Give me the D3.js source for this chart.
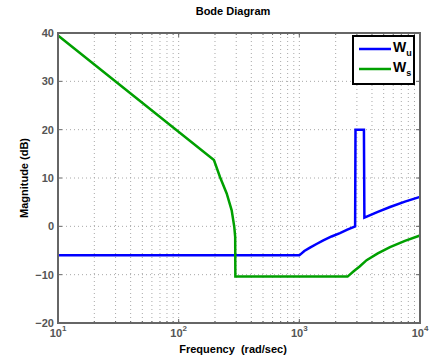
<!DOCTYPE html>
<html><head><meta charset="utf-8">
<script src="https://cdn.jsdelivr.net/npm/d3@7"></script>
<style>body{margin:0;background:#fff;} text{font-family:"Liberation Sans",Arial,Helvetica,sans-serif;}</style>
</head><body><svg id="c" width="430" height="363"></svg>
<script>
// Data (frequency in rad/sec, magnitude in dB)
const wuFreq = [10, 1000, 1100, 1225, 1400, 1580, 1850, 2170, 2500, 2900, 2920, 3430, 3460, 4470, 5640, 7500, 10000];
const wuMag  = [-6, -6, -5.1, -4.4, -3.6, -2.9, -2.1, -1.4, -0.7, 0, 20, 20, 1.8, 3.0, 4.0, 5.1, 6.1];
const wsFreq = [10, 196, 220, 250, 275, 289, 294, 295, 2510, 2820, 3160, 3610, 4470, 5640, 7500, 10000];
const wsMag  = [39.5, 13.7, 10.2, 6.8, 3.3, -0.1, -2.2, -10.4, -10.4, -9.3, -8.3, -7.0, -5.6, -4.3, -3.0, -1.9];
const yTicks = [-20, -10, 0, 10, 20, 30, 40];
const xDecades = [10, 100, 1000, 10000];
const xExponents = ["1", "2", "3", "4"];
const seriesNames = ["W", "W"];
const seriesSubs = ["u", "s"];
const seriesColors = ["#0000ff", "#00a000"];

const svg = d3.select("#c");
const L = 58, R = 420, T = 33, B = 323;
const x = d3.scaleLog().domain([10, 10000]).range([L, R]);
const y = d3.scaleLinear().domain([-20, 40]).range([B, T]);

// grid
const minor = [];
for (let d = 10; d < 10000; d *= 10) for (let k = 1; k <= 9; k++) { if (!(d === 10 && k === 1)) minor.push(d * k); }
const g = svg.append("g");
g.selectAll(".vg").data(minor).enter().append("line")
  .attr("x1", d => x(d)).attr("x2", d => x(d)).attr("y1", T).attr("y2", B)
  .attr("stroke", "#a8a8a8").attr("stroke-width", 1).attr("stroke-dasharray", "1,3");
g.selectAll(".hg").data(yTicks.slice(1, -1)).enter().append("line")
  .attr("x1", L).attr("x2", R).attr("y1", d => y(d)).attr("y2", d => y(d))
  .attr("stroke", "#a8a8a8").attr("stroke-width", 1).attr("stroke-dasharray", "1,3");

// ticks inward
const tk = svg.append("g").attr("stroke", "#666").attr("stroke-width", 1);
xDecades.forEach(d => {
  tk.append("line").attr("x1", x(d)).attr("x2", x(d)).attr("y1", B).attr("y2", B - 4);
  tk.append("line").attr("x1", x(d)).attr("x2", x(d)).attr("y1", T).attr("y2", T + 4);
});
minor.forEach(d => {
  tk.append("line").attr("x1", x(d)).attr("x2", x(d)).attr("y1", B).attr("y2", B - 2);
  tk.append("line").attr("x1", x(d)).attr("x2", x(d)).attr("y1", T).attr("y2", T + 2);
});
yTicks.forEach(v => {
  tk.append("line").attr("x1", L).attr("x2", L + 4).attr("y1", y(v)).attr("y2", y(v));
  tk.append("line").attr("x1", R).attr("x2", R - 4).attr("y1", y(v)).attr("y2", y(v));
});

// curves
const line = d3.line().x(d => x(d[0])).y(d => y(d[1]));
const wu = wuFreq.map((f, i) => [f, wuMag[i]]);
const ws = wsFreq.map((f, i) => [f, wsMag[i]]);
svg.append("path").datum(wu).attr("d", line).attr("fill", "none").attr("stroke", seriesColors[0]).attr("stroke-width", 2.5).attr("stroke-linejoin", "miter");
svg.append("path").datum(ws).attr("d", line).attr("fill", "none").attr("stroke", seriesColors[1]).attr("stroke-width", 2.5).attr("stroke-linejoin", "miter");

// axes box
svg.append("rect").attr("x", L).attr("y", T).attr("width", R - L).attr("height", B - T)
  .attr("fill", "none").attr("stroke", "#666").attr("stroke-width", 2);

// y tick labels
svg.selectAll(".yl").data(yTicks).enter().append("text")
  .attr("x", L - 4).attr("y", d => y(d) + 4).attr("text-anchor", "end")
  .attr("font-size", 11).attr("font-weight", "bold").attr("fill", "#555")
  .text(d => d < 0 ? "\u2212" + Math.abs(d) : d);

// x tick labels
xDecades.forEach((d, i) => {
  const t = svg.append("text").attr("x", x(d)).attr("y", 337).attr("text-anchor", "middle")
    .attr("font-size", 11).attr("font-weight", "bold").attr("fill", "#555");
  t.append("tspan").text("10");
  t.append("tspan").attr("dy", -6).attr("font-size", 8).text(xExponents[i]);
});

// titles
svg.append("text").attr("x", 233).attr("y", 15).attr("text-anchor", "middle")
  .attr("font-size", 11).attr("font-weight", "bold").attr("fill", "#000").text("Bode Diagram");
svg.append("text").attr("x", 233).attr("y", 353).attr("text-anchor", "middle")
  .attr("font-size", 11).attr("font-weight", "bold").attr("fill", "#000")
  .attr("xml:space", "preserve").text("Frequency  (rad/sec)");
svg.append("text").attr("transform", "translate(28,178) rotate(-90)").attr("text-anchor", "middle")
  .attr("font-size", 11).attr("font-weight", "bold").attr("fill", "#000").text("Magnitude (dB)");

// legend
const lg = svg.append("g");
lg.append("rect").attr("x", 353).attr("y", 36).attr("width", 61).attr("height", 48)
  .attr("fill", "#fff").attr("stroke", "#000").attr("stroke-width", 2);
[49, 69].forEach((ly, i) => {
  lg.append("line").attr("x1", 359).attr("x2", 391).attr("y1", ly).attr("y2", ly)
    .attr("stroke", seriesColors[i]).attr("stroke-width", 2.5);
  const t = lg.append("text").attr("x", 393).attr("y", ly + 3).attr("font-size", 14)
    .attr("font-weight", "bold").attr("fill", "#000");
  t.append("tspan").text(seriesNames[i]);
  t.append("tspan").attr("dy", 4).attr("font-size", 9).text(seriesSubs[i]);
});
</script></body></html>
